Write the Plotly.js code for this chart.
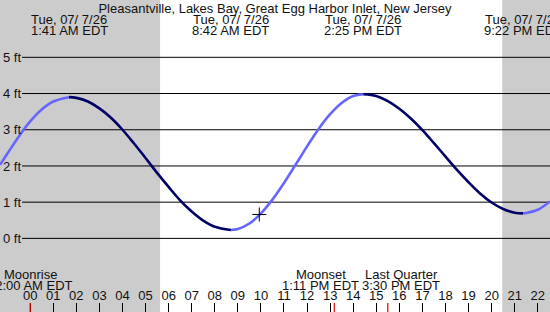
<!DOCTYPE html>
<html>
<head>
<meta charset="utf-8">
<script src="https://cdn.plot.ly/plotly-3.0.1.min.js"></script>
<style>html,body{margin:0;padding:0;background:#fff;}#chart{width:550px;height:312px;}</style>
</head>
<body>
<div id="chart"></div>
<script>
// ---- data ----
const chartTitle = "Pleasantville, Lakes Bay, Great Egg Harbor Inlet, New Jersey";
const tideHours = [-1.31,-1,-0.5,0,0.5,1,1.683,2,2.5,3,3.5,4,4.5,5,5.5,6,6.5,7,7.5,8,8.7,9,9.5,10,10.5,11,11.5,12,12.5,13,13.5,14,14.44,15,15.5,16,16.5,17,17.5,18,18.5,19,19.5,20,20.5,21,21.36,21.5,22,22.53];
const tideFeet  = [2.03,2.33,2.81,3.23,3.56,3.78,3.90,3.88,3.78,3.59,3.33,3.00,2.62,2.22,1.81,1.42,1.05,0.74,0.49,0.32,0.23,0.26,0.41,0.69,1.07,1.53,2.03,2.54,3.02,3.43,3.74,3.93,3.98,3.93,3.79,3.58,3.31,2.99,2.63,2.26,1.89,1.55,1.24,0.99,0.81,0.71,0.69,0.70,0.79,1.02];
const extremeHours = [1.683, 8.70, 14.44, 21.36];
const extremeDates = ["Tue, 07/ 7/26","Tue, 07/ 7/26","Tue, 07/ 7/26","Tue, 07/ 7/26"];
const extremeTimes = ["1:41 AM EDT","8:42 AM EDT","2:25 PM EDT","9:22 PM EDT"];
const nowHour = 9.93, nowFeet = 0.66;
const sunriseHour = 5.63, sunsetHour = 20.46;
const moonHours = [0, 13.18, 15.5];
const moonNames = ["Moonrise","Moonset","Last Quarter"];
const moonTimes = ["12:00 AM EDT","1:11 PM EDT","3:30 PM EDT"];
const hourTickVals = [-1,0,1,2,3,4,5,6,7,8,9,10,11,12,13,14,15,16,17,18,19,20,21,22];
const hourTickText = ["23","00","01","02","03","04","05","06","07","08","09","10","11","12","13","14","15","16","17","18","19","20","21","22"];
const feetTickVals = [0,1,2,3,4,5];
const feetTickText = ["0 ft","1 ft","2 ft","3 ft","4 ft","5 ft"];

// ---- layout constants ----
const W = 550, H = 312;
const xRange = [-1.309, 22.53];
const yRange = [-2.033, 6.583];
const FONT = "Liberation Sans, Arial, sans-serif";
const TXT = "#111";
const RISE = "#6666ff", FALL = "#000066";

// split curve into rising/falling segments at extremes
const breakIdx = [0];
extremeHours.forEach(h => { const i = tideHours.indexOf(h); if (i > 0) breakIdx.push(i); });
breakIdx.push(tideHours.length - 1);
const traces = [];
for (let k = 0; k < breakIdx.length - 1; k++) {
  const a = breakIdx[k], b = breakIdx[k+1];
  const rising = tideFeet[b] > tideFeet[a];
  traces.push({
    x: tideHours.slice(a, b+1), y: tideFeet.slice(a, b+1),
    type: "scatter", mode: "lines", hoverinfo: "skip",
    line: {color: rising ? RISE : FALL, width: 2.6, shape: "spline", smoothing: 1}
  });
}
traces.push({x:[nowHour], y:[nowFeet], type:"scatter", mode:"markers", hoverinfo:"skip",
  marker:{symbol:"cross-thin-open", size:10, color:"#000", line:{color:"#000", width:1}}});

const shapes = [
  {type:"rect", xref:"x", yref:"paper", x0:xRange[0]-1, x1:sunriseHour, y0:0, y1:1, fillcolor:"#cccccc", line:{width:0}, layer:"below"},
  {type:"rect", xref:"x", yref:"paper", x0:sunsetHour, x1:xRange[1]+1, y0:0, y1:1, fillcolor:"#cccccc", line:{width:0}, layer:"below"}
];
feetTickVals.forEach(v => shapes.push({type:"line", xref:"paper", yref:"y", x0:22/W, x1:1, y0:v, y1:v, line:{color:"#000", width:1}, layer:"below"}));
moonHours.forEach(h => shapes.push({type:"line", xref:"x", yref:"paper", x0:h, x1:h, y0:0, y1:9/H, line:{color:"#e00000", width:1.2}}));

const annotations = [];
const py = p => 1 - p / H;
extremeHours.forEach((h, i) => {
  annotations.push({x:h, y:py(19), xref:"x", yref:"paper", text:extremeDates[i], showarrow:false, xanchor:"center", yanchor:"middle", font:{family:FONT, size:13, color:TXT}});
  annotations.push({x:h, y:py(31), xref:"x", yref:"paper", text:extremeTimes[i], showarrow:false, xanchor:"center", yanchor:"middle", font:{family:FONT, size:13, color:TXT}});
});
const moonShift = [0, -13.5, 13.5];
moonHours.forEach((h, i) => {
  annotations.push({x:h, y:py(274), xref:"x", yref:"paper", xshift:moonShift[i], text:moonNames[i], showarrow:false, xanchor:"center", yanchor:"middle", font:{family:FONT, size:13, color:TXT}});
  annotations.push({x:h, y:py(285.5), xref:"x", yref:"paper", xshift:moonShift[i], text:moonTimes[i], showarrow:false, xanchor:"center", yanchor:"middle", font:{family:FONT, size:13, color:TXT}});
});

const layout = {
  width: W, height: H,
  margin: {l:0, r:0, t:0, b:0, pad:0},
  paper_bgcolor: "#fff", plot_bgcolor: "#fff",
  showlegend: false,
  title: {text: chartTitle, x:0.5, xanchor:"center", y: 1 - 8/H, yanchor:"middle", yref:"container", font:{family:FONT, size:13, color:TXT}},
  xaxis: {range:xRange, showgrid:false, zeroline:false, showline:false, fixedrange:true,
    tickmode:"array", tickvals:hourTickVals, ticktext:hourTickText,
    ticks:"inside", ticklen:9, tickwidth:1, tickcolor:"#000", ticklabelposition:"inside",
    tickfont:{family:FONT, size:13, color:TXT}, automargin:false},
  yaxis: {range:yRange, showgrid:false, zeroline:false, showline:false, fixedrange:true,
    tickmode:"array", tickvals:feetTickVals, ticktext:feetTickText,
    ticks:"", ticklabelposition:"inside",
    tickfont:{family:FONT, size:13, color:TXT}, automargin:false},
  shapes: shapes, annotations: annotations
};
Plotly.newPlot("chart", traces, layout, {staticPlot:true, displayModeBar:false});
</script>
</body>
</html>
